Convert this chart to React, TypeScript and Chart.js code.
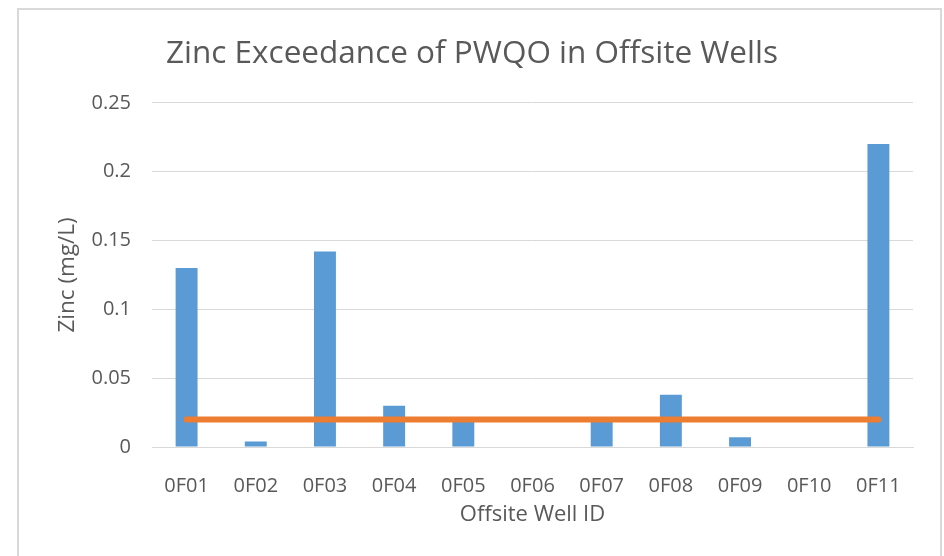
import React, { useEffect, useRef } from "react";
import { Chart, registerables } from "chart.js";

Chart.register(...registerables);

const categories = ["0F01", "0F02", "0F03", "0F04", "0F05", "0F06", "0F07", "0F08", "0F09", "0F10", "0F11"];
const zincValues = [0.13, 0.004, 0.142, 0.03, 0.019, 0, 0.02, 0.038, 0.007, 0, 0.22];
const pwqoValues = [0.02, 0.02, 0.02, 0.02, 0.02, 0.02, 0.02, 0.02, 0.02, 0.02, 0.02];
const yTickLabels = ["0", "0.05", "0.1", "0.15", "0.2", "0.25"];

const FONT = "'Open Sans', 'DejaVu Sans', sans-serif";
const TEXT = "#595959";
const GRID = "#d9d9d9";

export default function App() {
  const ref = useRef<HTMLCanvasElement | null>(null);

  useEffect(() => {
    if (!ref.current) return;
    const chart = new Chart(ref.current, {
      type: "bar",
      data: {
        labels: categories,
        datasets: [
          {
            type: "line",
            label: "PWQO",
            data: pwqoValues,
            borderColor: "#ED7D31",
            backgroundColor: "#ED7D31",
            borderWidth: 6,
            borderCapStyle: "round",
            pointRadius: 0,
            order: 0,
          } as any,
          {
            type: "bar",
            label: "Zinc",
            data: zincValues,
            backgroundColor: "#5B9BD5",
            borderWidth: 0,
            categoryPercentage: 1,
            barPercentage: 0.317,
            order: 1,
          } as any,
        ],
      },
      options: {
        responsive: false,
        animation: false,
        layout: { padding: { left: 31, right: 31, top: 0, bottom: 0 } },
        plugins: {
          legend: { display: false },
          tooltip: { enabled: false },
          title: {
            display: true,
            text: "Zinc Exceedance of PWQO in Offsite Wells",
            color: TEXT,
            font: { family: FONT, size: 31.5, weight: "normal", lineHeight: 1.2 },
            padding: { top: 35, bottom: 30 },
          },
        },
        scales: {
          x: {
            grid: { display: false },
            border: { display: true, color: GRID, width: 1 },
            ticks: {
              color: TEXT,
              font: { family: FONT, size: 20 },
              padding: 19,
              maxRotation: 0,
              autoSkip: false,
            },
            title: {
              display: true,
              text: "Offsite Well ID",
              color: TEXT,
              font: { family: FONT, size: 22 },
              padding: { top: 0, bottom: 28 },
            },
            afterFit: (scale: any) => {
              scale.height = 109;
            },
          },
          y: {
            min: 0,
            max: 0.25,
            grid: { color: GRID, lineWidth: 1, drawTicks: false },
            border: { display: false },
            ticks: {
              stepSize: 0.05,
              color: TEXT,
              font: { family: FONT, size: 20 },
              padding: 21,
              callback: (_v: any, i: number) => yTickLabels[i],
            },
            title: {
              display: true,
              text: "Zinc (mg/L)",
              color: TEXT,
              font: { family: FONT, size: 22.5 },
              padding: { top: 23.5, bottom: 0 },
            },
            afterFit: (scale: any) => {
              scale.width = 121;
            },
          },
        },
      },
    });
    return () => chart.destroy();
  }, []);

  return (
    <div style={{ position: "absolute", left: 0, top: 0, width: 944, height: 556, overflow: "hidden", background: "#fff" }}>
      <div
        style={{
          position: "absolute",
          left: 17,
          top: 8,
          width: 925,
          height: 548,
          boxSizing: "border-box",
          borderTop: `2px solid ${GRID}`,
          borderLeft: `2px solid ${GRID}`,
          borderRight: `2px solid ${GRID}`,
        }}
      />
      <canvas ref={ref} width={944} height={556} style={{ position: "absolute", left: 0, top: 0, width: 944, height: 556 }} />
    </div>
  );
}
